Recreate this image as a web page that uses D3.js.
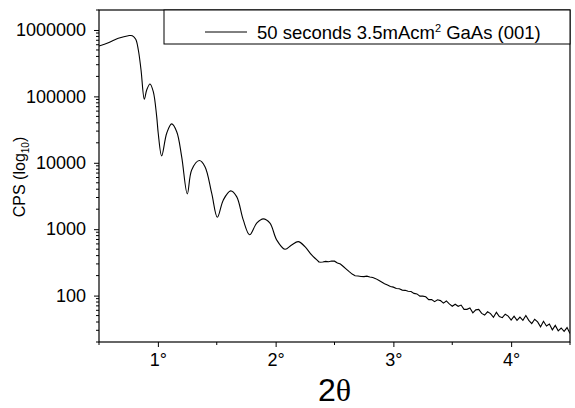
<!DOCTYPE html>
<html>
  <head>
    <meta http-equiv="Content-Type" content="text/html; charset=UTF-8">
    <script src="https://d3js.org/d3.v7.min.js"></script>
    <style type="text/css">
      body { margin: 0; background: #fff; }
      text { font-family: 'Liberation Sans', Arial, sans-serif; fill: #000; }
    </style>
  </head>
  <body>
    <div id="canvas"></div>
    <script type="text/javascript">
    // 2theta (degrees) and counts per second
    var twoTheta = [0.5, 0.579, 0.664, 0.749, 0.783, 0.812, 0.834, 0.857, 0.885, 0.905,
      0.933, 0.961, 0.99, 1.003, 1.032, 1.075, 1.117, 1.16, 1.202, 1.25,
      1.287, 1.352, 1.4, 1.457, 1.505, 1.556, 1.618, 1.669, 1.725, 1.779,
      1.839, 1.895, 1.952, 2.009, 2.079, 2.136, 2.192, 2.249, 2.306, 2.371,
      2.4, 2.425, 2.45, 2.475, 2.5, 2.525, 2.55, 2.575, 2.6, 2.625,
      2.65, 2.675, 2.7, 2.725, 2.75, 2.775, 2.8, 2.825, 2.85, 2.875,
      2.9, 2.925, 2.95, 2.975, 3.0, 3.025, 3.05, 3.075, 3.1, 3.125,
      3.15, 3.175, 3.2, 3.225, 3.25, 3.275, 3.3, 3.325, 3.35, 3.375,
      3.4, 3.425, 3.45, 3.475, 3.5, 3.525, 3.55, 3.575, 3.6, 3.625,
      3.65, 3.675, 3.7, 3.725, 3.75, 3.775, 3.8, 3.825, 3.85, 3.875,
      3.9, 3.925, 3.95, 3.975, 4.0, 4.025, 4.05, 4.075, 4.1, 4.125,
      4.15, 4.175, 4.2, 4.225, 4.25, 4.275, 4.3, 4.325, 4.35, 4.375,
      4.4, 4.425, 4.45, 4.475, 4.5];
    var cps = [574000, 644000, 750000, 821000, 821000, 724000, 500000, 250000, 90600, 125000,
      154000, 118000, 49600, 27900, 12700, 27900, 38500, 29400, 12400, 3400,
      7800, 10800, 8750, 3480, 1510, 2760, 3770, 3090, 1380, 826,
      1230, 1430, 1230, 689, 499, 579, 650, 546, 409, 318,
      321, 327, 324, 331, 330, 310, 298, 274, 250, 229,
      211, 199, 197, 194, 193, 196, 191, 187, 180, 170,
      160, 151, 144, 137, 134, 128, 127, 121, 120, 116,
      115, 108, 106, 98, 98, 96, 87, 87, 81, 86.5,
      84, 77, 83, 75, 69, 74, 69, 72, 62, 62,
      65, 55, 61, 62, 54, 51, 57, 53.5, 47, 56,
      48.5, 46.5, 52.5, 49, 42.7, 49, 42.3, 47.5, 42.3, 50,
      42.3, 37.8, 44, 40.2, 33.9, 41, 34.8, 37.3, 30.5, 35.6,
      29.5, 32.5, 29, 33, 26.9];

    var xTicks = [1, 2, 3, 4];
    var xMinorTicks = [0.5, 1.5, 2.5, 3.5, 4.5];
    var yTicks = [100, 1000, 10000, 100000, 1000000];
    var legendLabel = "50 seconds 3.5mAcm";

    var width = 575, height = 408;
    var margin = {left: 99, right: 5, top: 10, bottom: 66};

    var svg = d3.select('#canvas').append('svg')
      .attr('width', width)
      .attr('height', height);

    var x = d3.scaleLinear().domain([0.5, 4.5])
      .range([margin.left, width - margin.right]);
    var y = d3.scaleLog().domain([20, 2000000])
      .range([height - margin.bottom, margin.top]);

    var data = twoTheta.map(function (t, i) { return {t: t, c: cps[i]}; });
    var smooth = data.slice(0, 40), tail = data.slice(39);

    svg.append('clipPath').attr('id', 'clip')
      .append('rect')
      .attr('x', x(0.5)).attr('y', y(2000000))
      .attr('width', x(4.5) - x(0.5)).attr('height', y(20) - y(2000000));

    var lineSmooth = d3.line()
      .x(function (d) { return x(d.t); })
      .y(function (d) { return y(d.c); })
      .curve(d3.curveCatmullRom.alpha(0.5));
    var lineNoisy = d3.line()
      .x(function (d) { return x(d.t); })
      .y(function (d) { return y(d.c); });

    [[smooth, lineSmooth], [tail, lineNoisy]].forEach(function (p) {
      svg.append('path')
        .datum(p[0])
        .attr('clip-path', 'url(#clip)')
        .attr('d', p[1])
        .attr('fill', 'none')
        .attr('stroke', '#000')
        .attr('stroke-width', 1.1);
    });

    // x axis: major + minor ticks
    var xAxis = svg.append('g')
      .attr('transform', 'translate(0,' + y(20) + ')')
      .call(d3.axisBottom(x).tickValues(xTicks).tickSize(5).tickPadding(6)
        .tickFormat(function (d) { return d + '\u00b0'; }));
    xAxis.select('.domain').remove();
    xAxis.selectAll('text').style('font-size', '18px')
      .style('font-family', "'Liberation Sans', Arial, sans-serif");
    svg.append('g').selectAll('line').data(xMinorTicks).enter().append('line')
      .attr('x1', function (d) { return x(d); }).attr('x2', function (d) { return x(d); })
      .attr('y1', y(20)).attr('y2', y(20) + 3)
      .attr('stroke', '#000');

    // y axis: decades + log minor ticks
    var yAxis = svg.append('g')
      .attr('transform', 'translate(' + x(0.5) + ',0)')
      .call(d3.axisLeft(y).tickValues(yTicks).tickSize(5).tickPadding(8)
        .tickFormat(d3.format('d')));
    yAxis.select('.domain').remove();
    yAxis.selectAll('text').style('font-size', '18px')
      .style('font-family', "'Liberation Sans', Arial, sans-serif");
    var yMinor = [];
    [10, 100, 1000, 10000, 100000, 1000000].forEach(function (dec) {
      for (var k = 2; k <= 9; k++) {
        var v = dec * k;
        if (v >= 20 && v <= 2000000) yMinor.push(v);
      }
    });
    svg.append('g').selectAll('line').data(yMinor).enter().append('line')
      .attr('x1', x(0.5)).attr('x2', x(0.5) - 3)
      .attr('y1', function (d) { return y(d); }).attr('y2', function (d) { return y(d); })
      .attr('stroke', '#000');

    // frame
    svg.append('rect')
      .attr('x', x(0.5)).attr('y', y(2000000))
      .attr('width', x(4.5) - x(0.5)).attr('height', y(20) - y(2000000))
      .attr('fill', 'none').attr('stroke', '#000').attr('stroke-width', 1.2);

    // legend
    var lg = svg.append('g');
    lg.append('rect')
      .attr('x', 164).attr('y', y(2000000))
      .attr('width', x(4.5) - 164).attr('height', 34)
      .attr('fill', '#fff').attr('stroke', '#000');
    lg.append('line')
      .attr('x1', 205).attr('x2', 247).attr('y1', 32).attr('y2', 32)
      .attr('stroke', '#000');
    var lt = lg.append('text').attr('x', 257).attr('y', 38.5)
      .style('font-size', '18.5px');
    lt.append('tspan').text(legendLabel);
    lt.append('tspan').attr('dy', -7).style('font-size', '11px').text('2');
    lt.append('tspan').attr('dy', 7).text(' GaAs (001)');

    // axis titles
    var yt = svg.append('text')
      .attr('transform', 'translate(25,177) rotate(-90)')
      .attr('text-anchor', 'middle')
      .style('font-size', '16px');
    yt.append('tspan').text('CPS (log');
    yt.append('tspan').attr('dy', 4).style('font-size', '10px').text('10');
    yt.append('tspan').attr('dy', -4).text(')');

    var xt = svg.append('text')
      .attr('x', (x(0.5) + x(4.5)) / 2).attr('y', 401)
      .attr('text-anchor', 'middle')
      .style('font-size', '32px');
    xt.append('tspan').text('2');
    xt.append('tspan').style('font-family', "'Liberation Serif', serif").text('\u03b8');
    </script>
  </body>
</html>
